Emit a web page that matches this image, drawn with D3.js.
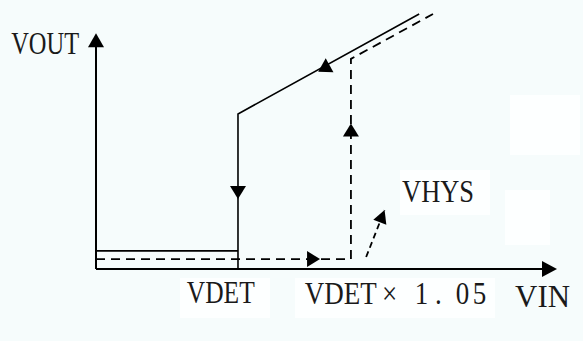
<!DOCTYPE html>
<html><head><meta charset="utf-8">
<script src="https://cdn.jsdelivr.net/npm/d3@7/dist/d3.min.js"></script>
<style>html,body{margin:0;padding:0;background:#f6fcfc;}svg{display:block;}</style>
</head><body>
<script>
// Diagram data (abstract units: VIN 0..100, VOUT 0..100)
const vdet = 30.8;          // detect voltage
const vrelease = 55.3;      // VDET x 1.05
const vinMax = 100;
const voutAxisTop = 92.5;
// solid path (falling VIN)
const solidPath = [[0, 7.1], [vdet, 7.1], [vdet, 0], [vdet, 60.8], [70.1, 100]];
// dashed path (rising VIN)
const dashedPath = [[0, 3.9], [vrelease, 3.9], [vrelease, 82.4], [73.1, 100]];
// arrows: [x, y, angle-degrees (direction)]
const arrowMarks = [
  [vdet, 27.5, 90],       // down arrow on solid vertical
  [48.2, 77.4, 151],      // down-left arrow on solid slope
  [vrelease, 57.1, -90],  // up arrow on dashed vertical
  [48.6, 3.9, 0]          // right arrow on dashed low line
];
const hysArrow = [[58.6, 4.7], [62.6, 23.1]];
// labels: text pieces with the gap before each piece
const labels = [
  {parts: [["VOUT", 0]], x: -18.4, y: 84.3, w: 68},
  {parts: [["VDET", 0]], x: 19.7, y: -13.3, w: 68},
  {parts: [["VDET", 0], ["×", 6], ["1", 20], [".", 8], ["05", 16]], x: 45.3, y: -13.7, w: 185},
  {parts: [["VIN", 0]], x: 90.9, y: -14.9, w: 55},
  {parts: [["VHYS", 0]], x: 66.4, y: 26.3, w: 72}
];

const W = 583, H = 341;
const x = d3.scaleLinear().domain([0, 100]).range([96, 557]);
const y = d3.scaleLinear().domain([0, 100]).range([269, 14]);

const svg = d3.select("body").append("svg").attr("width", W).attr("height", H);
svg.append("rect").attr("width", W).attr("height", H).attr("fill", "#f6fcfc");
// faint white patches as in the scanned source
[[400,170,90,45],[510,95,70,60],[505,190,45,55],[180,278,90,40],[295,278,200,40]].forEach(r=>{
  svg.append("rect").attr("x",r[0]).attr("y",r[1]).attr("width",r[2]).attr("height",r[3]).attr("fill","#fdffff");
});

const line = d3.line().x(d => x(d[0])).y(d => y(d[1]));

// axes
svg.append("line").attr("x1", x(0)).attr("y1", y(0)).attr("x2", x(0)).attr("y2", y(voutAxisTop) + 8)
  .attr("stroke", "#000").attr("stroke-width", 2);
svg.append("line").attr("x1", x(0)).attr("y1", y(0)).attr("x2", x(vinMax) - 8).attr("y2", y(0))
  .attr("stroke", "#000").attr("stroke-width", 2);

function tri(cx, cy, ang, len, half) {
  const a = ang * Math.PI / 180;
  const dx = Math.cos(a), dy = Math.sin(a);
  const px = -dy, py = dx;
  const bx = cx - dx * len, by = cy - dy * len;
  return `M${cx},${cy}L${bx + px*half},${by + py*half}L${bx - px*half},${by - py*half}Z`;
}
// axis arrowheads
svg.append("path").attr("d", tri(x(0), y(voutAxisTop), -90, 14, 8)).attr("fill", "#000");
svg.append("path").attr("d", tri(x(vinMax), y(0), 0, 15, 8)).attr("fill", "#000");

svg.append("path").attr("d", line(solidPath)).attr("fill", "none")
  .attr("stroke", "#000").attr("stroke-width", 1.6);
svg.append("path").attr("d", line(dashedPath)).attr("fill", "none")
  .attr("stroke", "#000").attr("stroke-width", 1.8).attr("stroke-dasharray", "9,6");

arrowMarks.forEach(a => {
  svg.append("path").attr("d", tri(x(a[0]), y(a[1]), a[2], 13, 8)).attr("fill", "#000");
});

// VHYS arrow
const h0 = [x(hysArrow[0][0]), y(hysArrow[0][1])], h1 = [x(hysArrow[1][0]), y(hysArrow[1][1])];
const ang = Math.atan2(h1[1] - h0[1], h1[0] - h0[0]) * 180 / Math.PI;
svg.append("line").attr("x1", h0[0]).attr("y1", h0[1]).attr("x2", h1[0]).attr("y2", h1[1])
  .attr("stroke", "#000").attr("stroke-width", 1.8).attr("stroke-dasharray", "6,4");
svg.append("path").attr("d", tri(h1[0], h1[1], ang, 13, 7)).attr("fill", "#000");

labels.forEach(l => {
  const t = svg.append("text")
    .attr("font-family", "'Liberation Serif', serif").attr("font-size", 31)
    .attr("fill", "#1a1a1a");
  l.parts.forEach((p, i) => {
    const s = t.append("tspan").text(p[0]);
    if (i > 0) s.attr("dx", p[1]).attr("letter-spacing", p[0].length > 1 ? 4 : 0);
  });
  const natural = t.node().getBBox().width || l.w;
  const sx = l.w / natural;
  t.attr("transform", `translate(${x(l.x)},${y(l.y)}) scale(${sx},1)`);
});
</script>
</body></html>
